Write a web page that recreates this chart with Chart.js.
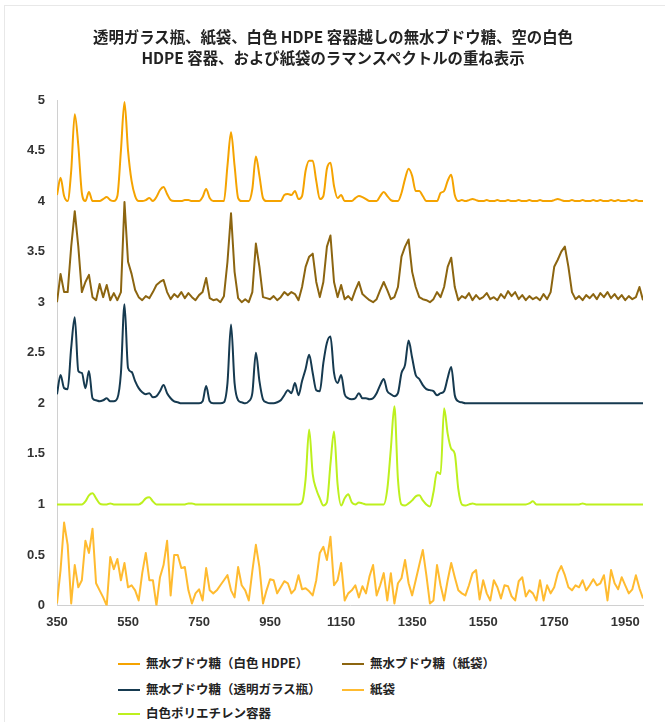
<!DOCTYPE html>
<html>
<head>
<meta charset="utf-8">
<script src="https://cdn.jsdelivr.net/npm/chart.js@4.4.0/dist/chart.umd.min.js"></script>
<style>
  html, body { margin: 0; padding: 0; background: #fff; }
  #wrap { position: relative; width: 665px; height: 722px; overflow: hidden; }
  #frame { position: absolute; left: 4px; top: 5px; right: 0; bottom: 0;
           border-left: 1px solid #e8e8e8; border-top: 1px solid #e8e8e8; }
  #title { position: absolute; left: 0; top: 26px; width: 666px; text-align: center;
           font-family: "Noto Sans CJK JP", sans-serif; font-weight: bold;
           font-size: 15.4px; line-height: 21px; color: #222; }
  #box { position: absolute; left: 0; top: 0; width: 665px; height: 640px; }
  #legend { position: absolute; left: 0; top: 651px; width: 665px;
            font-family: "Noto Sans CJK JP", sans-serif; font-weight: bold;
            font-size: 12.5px; color: #222; }
  .item { position: absolute; height: 24px; line-height: 24px; white-space: nowrap; }
  .item i { display: inline-block; width: 22px; height: 2px; vertical-align: middle;
            margin-right: 6px; position: relative; top: -1px; }
</style>
</head>
<body>
<div id="wrap">
  <div id="frame"></div>
  <div id="box"><canvas id="myChart"></canvas></div>
  <div id="title"></div>
  <div id="legend"></div>
</div>
<script>
var titleLines = ["透明ガラス瓶、紙袋、白色 HDPE 容器越しの無水ブドウ糖、空の白色",
                  "HDPE 容器、および紙袋のラマンスペクトルの重ね表示"];

var seriesNames = ["無水ブドウ糖（白色 HDPE）", "無水ブドウ糖（紙袋）",
                   "無水ブドウ糖（透明ガラス瓶）", "紙袋", "白色ポリエチレン容器"];
var seriesColors = ["#f5a300", "#8c6510", "#163a50", "#ffbb30", "#bdf01e"];
var noisy = [false, true, false, true, false];

var xTicks = [350, 550, 750, 950, 1150, 1350, 1550, 1750, 1950];

// ラマンシフト (cm-1)
var wavenumbers = [
  350, 360, 370, 380, 390, 400, 410, 420, 430, 440,
  450, 460, 470, 480, 490, 500, 510, 520, 530, 540,
  550, 560, 570, 580, 590, 600, 610, 620, 630, 640,
  650, 660, 670, 680, 690, 700, 710, 720, 730, 740,
  750, 760, 770, 780, 790, 800, 810, 820, 830, 840,
  850, 860, 870, 880, 890, 900, 910, 920, 930, 940,
  950, 960, 970, 980, 990, 1000, 1010, 1020, 1030, 1040,
  1050, 1060, 1070, 1080, 1090, 1100, 1110, 1120, 1130, 1140,
  1150, 1160, 1170, 1180, 1190, 1200, 1210, 1220, 1230, 1240,
  1250, 1260, 1270, 1280, 1290, 1300, 1310, 1320, 1330, 1340,
  1350, 1360, 1370, 1380, 1390, 1400, 1410, 1420, 1430, 1440,
  1450, 1460, 1470, 1480, 1490, 1500, 1510, 1520, 1530, 1540,
  1550, 1560, 1570, 1580, 1590, 1600, 1610, 1620, 1630, 1640,
  1650, 1660, 1670, 1680, 1690, 1700, 1710, 1720, 1730, 1740,
  1750, 1760, 1770, 1780, 1790, 1800, 1810, 1820, 1830, 1840,
  1850, 1860, 1870, 1880, 1890, 1900, 1910, 1920, 1930, 1940,
  1950, 1960, 1970, 1980, 1990, 2000
];

var glucoseHdpe = [
  4.06, 4.23, 4.05, 4.0, 4.3, 4.86, 4.55, 4.08, 4.0, 4.09,
  4.0, 4.0, 4.0, 4.02, 4.04, 4.01, 4.0, 4.05, 4.5, 4.98,
  4.5, 4.2, 4.05, 4.0, 4.0, 4.01, 4.03, 4.0, 4.04, 4.11,
  4.14, 4.07, 4.01, 4.0, 4.0, 4.0, 4.01, 4.01, 4.0, 4.0,
  4.0, 4.04, 4.12, 4.03, 4.0, 4.0, 4.0, 4.0, 4.35, 4.68,
  4.35, 4.03, 4.0, 4.0, 4.0, 4.12, 4.44, 4.25, 4.03, 4.0,
  4.0, 4.0, 4.0, 4.0, 4.06, 4.07, 4.06, 4.1, 4.02, 4.05,
  4.3, 4.4, 4.4, 4.2, 4.02, 4.05, 4.32, 4.38, 4.15, 4.03,
  4.06, 4.0, 4.0, 4.0, 4.03, 4.05, 4.04, 4.02, 4.0, 4.0,
  4.0, 4.05, 4.09, 4.05, 4.01, 4.0, 4.0, 4.08, 4.22, 4.32,
  4.25, 4.1, 4.1, 4.05, 4.0, 4.0, 4.0, 4.0, 4.08, 4.1,
  4.2, 4.26, 4.06, 4.0, 4.01, 4.0, 4.01, 4.02, 4.01, 4.0,
  4.0, 4.01, 4.0, 4.0, 4.01, 4.0, 4.0, 4.01, 4.0, 4.0,
  4.01, 4.0, 4.0, 4.01, 4.0, 4.0, 4.01, 4.0, 4.0, 4.0,
  4.01, 4.02, 4.01, 4.0, 4.0, 4.01, 4.0, 4.0, 4.01, 4.0,
  4.0, 4.01, 4.0, 4.01, 4.0, 4.0, 4.01, 4.0, 4.01, 4.0,
  4.0, 4.01, 4.0, 4.01, 4.0, 4.0
];

var glucosePaper = [
  3.0, 3.28, 3.1, 3.1, 3.55, 3.9, 3.55, 3.1, 3.2, 3.27,
  3.05, 3.02, 3.18, 3.05, 3.17, 3.02, 3.09, 3.02, 3.1, 3.99,
  3.4, 3.28, 3.12, 3.05, 3.02, 3.06, 3.04, 3.1, 3.17, 3.2,
  3.22, 3.1, 3.03, 3.08, 3.05, 3.1, 3.04, 3.09, 3.05, 3.02,
  3.07, 3.1, 3.24, 3.04, 3.02, 3.03, 3.0, 3.06, 3.4, 3.88,
  3.3, 3.04, 3.0, 3.03, 3.0, 3.1, 3.58, 3.35, 3.05, 3.04,
  3.03, 3.06, 3.02, 3.05, 3.1, 3.07, 3.1, 3.08, 3.02, 3.15,
  3.35, 3.45, 3.48, 3.2, 3.05, 3.2, 3.55, 3.66, 3.2, 3.05,
  3.17, 3.03, 3.06, 3.02, 3.12, 3.2, 3.08, 3.05, 3.02, 3.0,
  3.03, 3.12, 3.2, 3.12, 3.03, 3.05, 3.15, 3.45, 3.55, 3.62,
  3.3, 3.15, 3.05, 3.03, 3.02, 3.0, 3.03, 3.1, 3.05, 3.15,
  3.35, 3.44, 3.15, 3.02, 3.06, 3.04, 3.09, 3.02, 3.07, 3.03,
  3.05, 3.09, 3.03, 3.05, 3.02, 3.08, 3.04, 3.11, 3.06, 3.1,
  3.03, 3.07, 3.02, 3.06, 3.03, 3.05, 3.02, 3.08, 3.03, 3.1,
  3.35, 3.42, 3.5, 3.55, 3.35, 3.1, 3.03, 3.06, 3.02, 3.07,
  3.04, 3.08, 3.03, 3.09, 3.05, 3.1, 3.04, 3.08, 3.03, 3.07,
  3.02, 3.06, 3.03, 3.05, 3.15, 3.02
];

var glucoseGlass = [
  2.09, 2.28, 2.15, 2.14, 2.55, 2.85, 2.32, 2.3, 2.15, 2.32,
  2.05, 2.03, 2.02, 2.03, 2.05, 2.02, 2.02, 2.05, 2.3, 2.98,
  2.35, 2.31, 2.22, 2.15, 2.11, 2.09, 2.1, 2.06, 2.07, 2.12,
  2.18, 2.1, 2.05, 2.02, 2.01, 2.0, 2.0, 2.0, 2.0, 2.0,
  2.0, 2.02, 2.17, 2.02, 2.0, 2.0, 2.0, 2.01, 2.2, 2.78,
  2.2, 2.03, 2.01, 2.0, 2.02, 2.1, 2.5, 2.22, 2.04, 2.01,
  2.0, 2.0, 2.01, 2.03, 2.08, 2.13, 2.1, 2.2, 2.08, 2.22,
  2.34, 2.48, 2.3, 2.13, 2.12, 2.4, 2.6, 2.66, 2.3, 2.2,
  2.28, 2.09, 2.05, 2.04, 2.05, 2.1, 2.05, 2.05, 2.04, 2.05,
  2.1, 2.18, 2.24, 2.12, 2.09, 2.07, 2.1, 2.3, 2.38, 2.62,
  2.45, 2.28, 2.24, 2.18, 2.14, 2.13, 2.12, 2.08, 2.1, 2.12,
  2.25, 2.36, 2.08, 2.02, 2.01, 2.0, 2.0, 2.0, 2.0, 2.0,
  2.0, 2.0, 2.0, 2.0, 2.0, 2.0, 2.0, 2.0, 2.0, 2.0,
  2.0, 2.0, 2.0, 2.0, 2.0, 2.0, 2.0, 2.0, 2.0, 2.0,
  2.0, 2.0, 2.0, 2.0, 2.0, 2.0, 2.0, 2.0, 2.0, 2.0,
  2.0, 2.0, 2.0, 2.0, 2.0, 2.0, 2.0, 2.0, 2.0, 2.0,
  2.0, 2.0, 2.0, 2.0, 2.0, 2.0
];

var paperBag = [
  0.02, 0.35, 0.82, 0.6, 0.02, 0.4, 0.18, 0.25, 0.64, 0.52,
  0.76, 0.22, 0.15, 0.08, 0.0, 0.48, 0.36, 0.46, 0.25, 0.42,
  0.18, 0.2, 0.15, 0.05, 0.32, 0.52, 0.25, 0.25, 0.0, 0.28,
  0.4, 0.64, 0.1, 0.5, 0.5, 0.37, 0.38, 0.15, 0.02, 0.12,
  0.16, 0.05, 0.37, 0.15, 0.12, 0.15, 0.2, 0.25, 0.3, 0.15,
  0.08, 0.38, 0.2, 0.15, 0.05, 0.34, 0.6, 0.38, 0.02, 0.15,
  0.26, 0.25, 0.12, 0.18, 0.24, 0.22, 0.12, 0.16, 0.3, 0.16,
  0.17, 0.14, 0.1, 0.25, 0.52, 0.58, 0.45, 0.68, 0.2, 0.25,
  0.42, 0.05, 0.12, 0.15, 0.2, 0.08, 0.19, 0.12, 0.29, 0.4,
  0.1, 0.2, 0.32, 0.05, 0.32, 0.02, 0.22, 0.27, 0.45, 0.22,
  0.1, 0.25, 0.4, 0.55, 0.3, 0.02, 0.05, 0.4, 0.2, 0.05,
  0.25, 0.42, 0.28, 0.15, 0.12, 0.1, 0.2, 0.32, 0.35, 0.06,
  0.25, 0.12, 0.05, 0.25, 0.18, 0.07, 0.2, 0.19, 0.09, 0.05,
  0.24, 0.28, 0.09, 0.15, 0.12, 0.05, 0.25, 0.05, 0.2, 0.12,
  0.18, 0.32, 0.39, 0.3, 0.18, 0.15, 0.2, 0.18, 0.25, 0.15,
  0.2, 0.26, 0.2, 0.22, 0.3, 0.05, 0.35, 0.22, 0.16, 0.28,
  0.2, 0.12, 0.16, 0.3, 0.17, 0.07
];

var polyethylene = [
  1.0, 1.0, 1.0, 1.0, 1.0, 1.0, 1.0, 1.0, 1.03, 1.09,
  1.11, 1.06, 1.01, 1.0, 1.0, 1.01, 1.0, 1.0, 1.0, 1.0,
  1.0, 1.0, 1.0, 1.0, 1.02, 1.06, 1.07, 1.03, 1.0, 1.0,
  1.0, 1.0, 1.0, 1.0, 1.0, 1.0, 1.0, 1.01, 1.01, 1.0,
  1.0, 1.0, 1.0, 1.0, 1.0, 1.0, 1.0, 1.0, 1.0, 1.0,
  1.0, 1.0, 1.0, 1.0, 1.0, 1.0, 1.0, 1.0, 1.0, 1.0,
  1.0, 1.0, 1.0, 1.0, 1.0, 1.0, 1.0, 1.0, 1.0, 1.02,
  1.25, 1.74, 1.3, 1.15, 1.06, 0.99, 1.02, 1.4, 1.72, 1.2,
  0.99, 1.06, 1.1, 1.02, 1.0, 1.02, 1.01, 1.0, 1.0, 1.0,
  1.0, 1.0, 1.0, 1.15, 1.55, 1.97, 1.25, 1.0, 0.99, 1.01,
  1.04, 1.08, 1.09, 1.04, 1.0, 0.98, 1.12, 1.32, 1.3, 1.95,
  1.7, 1.55, 1.5, 1.15, 1.0, 0.99, 1.0, 1.01, 1.0, 1.0,
  1.0, 1.0, 1.0, 1.0, 1.0, 1.0, 1.0, 1.0, 1.0, 1.0,
  1.0, 1.0, 1.0, 1.01, 1.03, 1.0, 1.0, 1.0, 1.0, 1.0,
  1.0, 1.0, 1.0, 1.0, 1.0, 1.0, 1.0, 1.0, 1.01, 1.0,
  1.0, 1.0, 1.0, 1.0, 1.0, 1.0, 1.0, 1.0, 1.0, 1.0,
  1.0, 1.0, 1.0, 1.0, 1.0, 1.0
];

var allSeries = [glucoseHdpe, glucosePaper, glucoseGlass, paperBag, polyethylene];

function toPoints(values) {
    return wavenumbers.map(function (w, i) {
        return { x: w, y: values[i] };
    });
}

var datasets = allSeries.map(function (values, i) {
    var ds = {
        label: seriesNames[i],
        data: toPoints(values),
        borderColor: seriesColors[i],
        backgroundColor: seriesColors[i],
        borderWidth: 2,
        pointRadius: 0,
        fill: false
    };
    if (noisy[i]) {
        ds.tension = 0;
        ds.borderJoinStyle = 'round';
    } else {
        ds.cubicInterpolationMode = 'monotone';
    }
    return ds;
});

var tickFont = { family: "'Liberation Sans', Arial, sans-serif", size: 13, weight: 'bold' };

var ctx = document.getElementById("myChart");
var myChart = new Chart(ctx, {
    type: 'line',
    data: { datasets: datasets },
    options: {
        responsive: true,
        maintainAspectRatio: false,
        animation: false,
        layout: { padding: { left: 0, right: 22, top: 100, bottom: 4.5 } },
        plugins: {
            legend: { display: false },
            tooltip: { enabled: false },
            title: { display: false }
        },
        scales: {
            x: {
                type: 'linear',
                min: 350,
                max: 2000,
                grid: { display: false, drawTicks: false },
                border: { display: true, color: '#d0d0d0', width: 1 },
                afterBuildTicks: function (axis) {
                    axis.ticks = xTicks.map(function (v) { return { value: v }; });
                },
                afterFit: function (axis) { axis.height = 30; },
                ticks: {
                    color: '#333',
                    font: tickFont,
                    padding: 9,
                    maxRotation: 0,
                    autoSkip: false,
                    callback: function (v) { return String(v); }
                }
            },
            y: {
                min: 0,
                max: 5,
                grid: { display: false, drawTicks: false },
                border: { display: true, color: '#d0d0d0', width: 1 },
                afterFit: function (axis) { axis.width = 57; },
                ticks: {
                    stepSize: 0.5,
                    color: '#333',
                    font: tickFont,
                    padding: 12,
                    callback: function (v) { return String(Math.round(v * 10) / 10); }
                }
            }
        }
    }
});

document.getElementById("title").innerHTML = titleLines.join("<br>");

// 凡例 (2列)
var legendPos = [[118, 0], [342, 0], [118, 26], [342, 26], [118, 50]];
var legendEl = document.getElementById("legend");
seriesNames.forEach(function (name, i) {
    var div = document.createElement("div");
    div.className = "item";
    div.style.left = legendPos[i][0] + "px";
    div.style.top = legendPos[i][1] + "px";
    var sw = document.createElement("i");
    sw.style.background = seriesColors[i];
    div.appendChild(sw);
    div.appendChild(document.createTextNode(name));
    legendEl.appendChild(div);
});
</script>
</body>
</html>
